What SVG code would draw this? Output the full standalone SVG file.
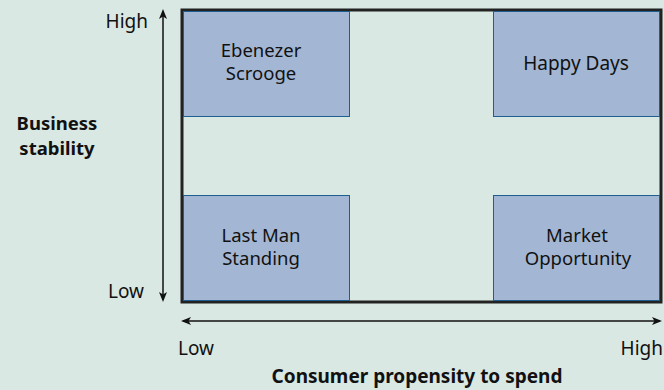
<svg xmlns="http://www.w3.org/2000/svg" width="664" height="390" viewBox="0 0 664 390">
<style>
.t{font-family:"Noto Sans","Open Sans",sans-serif;font-size:19px;fill:#111;}
.s{font-size:18.5px;}
.b{font-weight:bold;}
.box{fill:#a3b7d4;stroke:#1f5f8f;stroke-width:1;}
.ax{stroke:#111;stroke-width:1.5;fill:none;}
</style>
<defs>
<marker id="ah" markerWidth="10" markerHeight="10" refX="8" refY="5" orient="auto-start-reverse" markerUnits="userSpaceOnUse">
<path d="M0,1 L10,5 L0,9 L2.5,5 Z" fill="#111"/>
</marker>
</defs>
<rect width="664" height="390" fill="#d9e8e3"/>
<g id="frame">
<rect x="182" y="10" width="479" height="292" fill="#d9e8e3" stroke="#222" stroke-width="3"/>
</g>
<g id="ebenezer">
<rect class="box" x="183.5" y="11.5" width="166" height="105"/>
<text class="t s" x="261" y="57" text-anchor="middle">Ebenezer</text>
<text class="t s" x="261" y="80" text-anchor="middle">Scrooge</text>
</g>
<g id="happy">
<rect class="box" x="493.5" y="11.5" width="166" height="105"/>
<text class="t" x="576" y="70" text-anchor="middle">Happy Days</text>
</g>
<g id="lastman">
<rect class="box" x="183.5" y="195.5" width="166" height="105"/>
<text class="t s" x="261" y="242" text-anchor="middle">Last Man</text>
<text class="t s" x="261" y="265" text-anchor="middle">Standing</text>
</g>
<g id="market">
<rect class="box" x="493.5" y="195.5" width="166" height="105"/>
<text class="t s" x="577" y="242" text-anchor="middle">Market</text>
<text class="t s" x="578" y="265" text-anchor="middle">Opportunity</text>
</g>
<g id="connectors">
<line class="ax" x1="163" y1="300" x2="163" y2="11" marker-start="url(#ah)" marker-end="url(#ah)"/>
<line class="ax" x1="183" y1="321" x2="660" y2="321" marker-start="url(#ah)" marker-end="url(#ah)"/>
</g>
<g id="labels">
<text class="t" x="148" y="28" text-anchor="end">High</text>
<text class="t" x="144" y="298" text-anchor="end">Low</text>
<text class="t b s" x="57" y="130" text-anchor="middle">Business</text>
<text class="t b s" x="57" y="155" text-anchor="middle">stability</text>
<text class="t" x="178" y="355">Low</text>
<text class="t" x="663" y="355" text-anchor="end">High</text>
<text class="t b" x="417" y="383" text-anchor="middle">Consumer propensity to spend</text>
</g>
</svg>
